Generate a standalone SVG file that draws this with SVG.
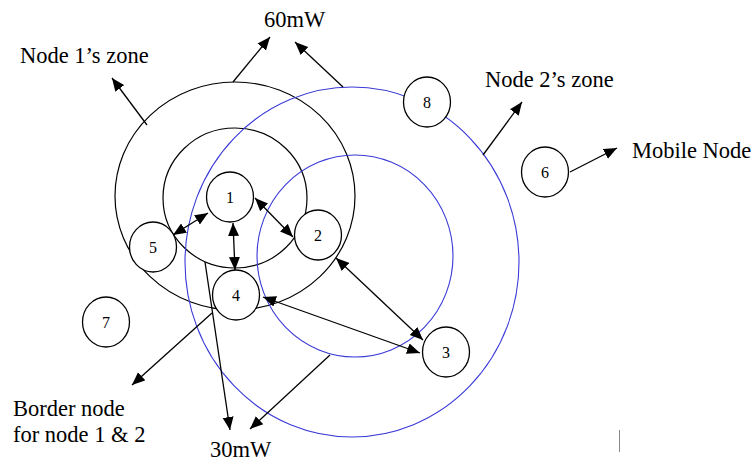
<svg xmlns="http://www.w3.org/2000/svg" width="756" height="462" viewBox="0 0 756 462">
<style>
.lbl{font-family:"Liberation Serif","Times New Roman",serif;font-size:22.5px;fill:#000}
.num{font-family:"Liberation Serif","Times New Roman",serif;font-size:16px;fill:#000;text-anchor:middle}
.zb{fill:none;stroke:#000;stroke-width:1.2}
.zl{fill:none;stroke:#3a3ad8;stroke-width:1.1}
.nd{fill:#fff;stroke:#000;stroke-width:1.3}
.ar{stroke:#000;stroke-width:1.3;fill:none}
</style>
<defs>
<marker id="ah" markerUnits="userSpaceOnUse" markerWidth="14" markerHeight="12" refX="13" refY="5.5" orient="auto-start-reverse" viewBox="0 0 14 11">
<path d="M0,0 L13,5.5 L0,11 z" fill="#000"/>
</marker>
</defs>
<rect width="756" height="462" fill="#fff"/>
<g id="zones">
<ellipse class="zb" cx="235" cy="196" rx="120" ry="114"/>
<ellipse class="zb" cx="235" cy="198" rx="72" ry="70"/>
<ellipse class="zl" cx="352" cy="262" rx="167" ry="175"/>
<ellipse class="zl" cx="355" cy="256" rx="98" ry="101"/>
</g>
<g id="connectors">
<line class="ar" x1="173" y1="235" x2="208" y2="213" marker-start="url(#ah)" marker-end="url(#ah)"/>
<line class="ar" x1="233" y1="223" x2="235" y2="270" marker-start="url(#ah)" marker-end="url(#ah)"/>
<line class="ar" x1="255" y1="198" x2="293" y2="237" marker-start="url(#ah)" marker-end="url(#ah)"/>
<line class="ar" x1="336" y1="258" x2="423" y2="340" marker-start="url(#ah)" marker-end="url(#ah)"/>
<line class="ar" x1="263" y1="297" x2="420" y2="353" marker-start="url(#ah)" marker-end="url(#ah)"/>
<line class="ar" x1="147" y1="125" x2="112" y2="78" marker-end="url(#ah)"/>
<line class="ar" x1="233" y1="82" x2="270" y2="37" marker-end="url(#ah)"/>
<line class="ar" x1="343" y1="87" x2="295" y2="42" marker-end="url(#ah)"/>
<line class="ar" x1="483" y1="155" x2="522" y2="102" marker-end="url(#ah)"/>
<line class="ar" x1="570" y1="172" x2="617" y2="148" marker-end="url(#ah)"/>
<line class="ar" x1="212" y1="313" x2="132" y2="385" marker-end="url(#ah)"/>
<line class="ar" x1="205" y1="262" x2="230" y2="430" marker-end="url(#ah)"/>
<line class="ar" x1="330" y1="355" x2="250" y2="429" marker-end="url(#ah)"/>
</g>
<g id="node1"><ellipse class="nd" cx="230" cy="197" rx="23.5" ry="25"/><text class="num" x="230" y="203">1</text></g>
<g id="node2"><ellipse class="nd" cx="318" cy="235" rx="23.5" ry="25"/><text class="num" x="318" y="241">2</text></g>
<g id="node3"><ellipse class="nd" cx="446" cy="352" rx="23.5" ry="25"/><text class="num" x="446" y="358">3</text></g>
<g id="node4"><ellipse class="nd" cx="236" cy="295" rx="23.5" ry="25"/><text class="num" x="236" y="301">4</text></g>
<g id="node5"><ellipse class="nd" cx="153" cy="247" rx="23.5" ry="25"/><text class="num" x="153" y="253">5</text></g>
<g id="node6"><ellipse class="nd" cx="545" cy="172" rx="23.5" ry="25"/><text class="num" x="545" y="178">6</text></g>
<g id="node7"><ellipse class="nd" cx="106" cy="322" rx="23.5" ry="25"/><text class="num" x="106" y="328">7</text></g>
<g id="node8"><ellipse class="nd" cx="427" cy="102" rx="23.5" ry="25"/><text class="num" x="427" y="108">8</text></g>
<g id="labels">
<text class="lbl" x="20" y="63">Node 1’s zone</text>
<text class="lbl" x="264" y="27">60mW</text>
<text class="lbl" x="485" y="87">Node 2’s zone</text>
<text class="lbl" x="632" y="158">Mobile Node</text>
<text class="lbl" x="13" y="416">Border node</text>
<text class="lbl" x="13" y="442">for node 1 &amp; 2</text>
<text class="lbl" x="210" y="457">30mW</text>
</g>
<line x1="619.5" y1="430" x2="619.5" y2="452" stroke="#888" stroke-width="1"/>
</svg>
